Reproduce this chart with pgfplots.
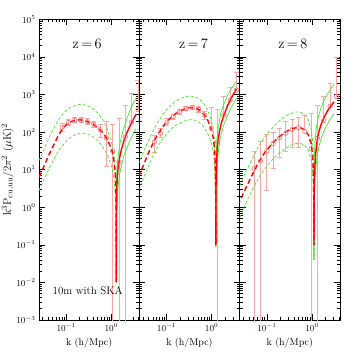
\documentclass[border=0pt]{standalone}
\usepackage{pgfplots}
\pgfplotsset{compat=1.18}
\definecolor{myred}{RGB}{255,0,0}
\definecolor{mygreen}{RGB}{70,230,40}
\definecolor{mypink}{RGB}{255,165,165}
\definecolor{mycirc}{RGB}{255,110,110}
\pgfplotsset{
  every axis/.append style={
    xmode=log, ymode=log, scale only axis,
    width=100.33bp, height=300.5bp,
    xmin=0.025, xmax=4.17, ymin=1e-3, ymax=1e5,
    xtick={0.1,1},
    minor xtick={0.03,0.04,0.05,0.06,0.07,0.08,0.09,0.2,0.3,0.4,0.5,0.6,0.7,0.8,0.9,2,3,4},
    ytick={1e-3,1e-2,1e-1,1,10,100,1000,1e4,1e5},
    minor ytick={2e-3,3e-3,4e-3,5e-3,6e-3,7e-3,8e-3,9e-3,2e-2,3e-2,4e-2,5e-2,6e-2,7e-2,8e-2,9e-2,0.2,0.3,0.4,0.5,0.6,0.7,0.8,0.9,2,3,4,5,6,7,8,9,20,30,40,50,60,70,80,90,200,300,400,500,600,700,800,900,2000,3000,4000,5000,6000,7000,8000,9000,20000,30000,40000,50000,60000,70000,80000,90000},
    axis line style={line width=1pt},
    major tick length=6bp, minor tick length=3bp,
    every tick/.append style={black, line width=0.6pt},
    tick label style={font=\small},
    xlabel={k (h/Mpc)},
    xlabel style={at={(axis description cs:0.5,-0.077)}, anchor=center},
  },
}
\tikzset{
  rdash/.style={myred, line width=1.4bp, dash pattern=on 5bp off 3bp},
  rsol/.style={myred, line width=1.4bp},
  gdash/.style={mygreen, line width=0.7bp, dash pattern=on 3bp off 2bp},
  gsol/.style={mygreen, line width=0.7bp},
}
\begin{document}
\begin{tikzpicture}
\path[use as bounding box] (-39bp,-39bp) rectangle (320bp,320bp);
% ---------------- z=6 ----------------
\begin{axis}[at={(0,0)},
  ylabel={k$^3$P$_{\rm cu,uu}$/2$\pi^2$ ($\mu$K)$^2$},
  ylabel style={at={(axis description cs:-0.31,0.5)}, anchor=center, font=\fontsize{11}{13}\selectfont}]
\addplot[only marks, mark=o, mark size=2.2bp, mark options={mycirc, line width=0.6bp},
  error bars/y dir=both, error bars/y explicit,
  error bars/error bar style={mypink, line width=0.8bp},
  error bars/error mark options={rotate=90, mark size=2.5bp, mypink, line width=0.8bp}]
  table[x expr=10^\thisrow{lk}, y expr=10^\thisrow{lp},
  y error plus expr=10^\thisrow{hi}-10^\thisrow{lp},
  y error minus expr=10^\thisrow{lp}-10^\thisrow{lo}] {
lk lp lo hi
-1.09 2.13 2.03 2.23
-0.95 2.26 2.18 2.35
-0.81 2.32 2.25 2.39
-0.67 2.32 2.25 2.39
-0.53 2.28 2.20 2.36
-0.39 2.21 2.12 2.30
-0.25 2.07 1.85 2.22
-0.11 1.85 1.09 2.30
0.03 1.50 -5 2.20
0.17 1.21 -5 2.37
0.31 1.88 -5 2.72
0.45 2.27 -5 3.03
0.59 2.60 -5 3.39
};
\addplot[gdash] table[x expr=10^\thisrow{lk}, y expr=10^\thisrow{lp}] {
lk lp
-1.6 1.25
-1.5 1.52
-1.4 1.80
-1.3 2.05
-1.2 2.27
-1.1 2.45
-1.0 2.57
-0.9 2.66
-0.8 2.71
-0.7 2.74
-0.6 2.73
-0.5 2.69
-0.4 2.62
-0.3 2.51
-0.2 2.35
-0.1 2.12
0.0 1.75
0.04 1.52
0.07 1.28
0.09 0.98
0.10 0.6
0.105 0.2
0.11 -2.0
};
\addplot[gdash] table[x expr=10^\thisrow{lk}, y expr=10^\thisrow{lp}] {
lk lp
-1.6 0.45
-1.5 0.72
-1.4 0.98
-1.3 1.22
-1.2 1.44
-1.1 1.62
-1.0 1.76
-0.9 1.86
-0.8 1.93
-0.7 1.97
-0.6 1.97
-0.5 1.94
-0.4 1.87
-0.3 1.77
-0.2 1.63
-0.1 1.43
0.0 1.12
0.04 0.90
0.07 0.60
0.09 0.30
0.10 -0.1
0.105 -2.0
};
\addplot[gsol] table[x expr=10^\thisrow{lk}, y expr=10^\thisrow{lp}] {
lk lp
0.105 -2.0
0.108 0.3
0.115 0.75
0.13 1.10
0.16 1.45
0.20 1.75
0.25 2.00
0.30 2.20
0.35 2.38
0.42 2.60
0.50 2.80
0.55 2.90
};
\addplot[gsol] table[x expr=10^\thisrow{lk}, y expr=10^\thisrow{lp}] {
lk lp
0.115 -2.0
0.12 -0.2
0.13 0.2
0.15 0.55
0.18 0.85
0.22 1.10
0.28 1.38
0.35 1.60
0.42 1.80
0.50 2.00
0.55 2.10
};
\addplot[rdash] table[x expr=10^\thisrow{lk}, y expr=10^\thisrow{lp}] {
lk lp
-1.6 0.80
-1.5 1.07
-1.4 1.35
-1.3 1.60
-1.2 1.85
-1.1 2.06
-1.0 2.20
-0.9 2.28
-0.8 2.32
-0.7 2.33
-0.6 2.31
-0.5 2.27
-0.4 2.21
-0.3 2.12
-0.2 2.00
-0.1 1.83
0.0 1.57
0.04 1.38
0.07 1.13
0.09 0.83
0.10 0.53
0.105 0.2
0.11 -2.0
};
\addplot[rsol] table[x expr=10^\thisrow{lk}, y expr=10^\thisrow{lp}] {
lk lp
0.11 -2.0
0.113 -0.3
0.12 0.4
0.13 0.75
0.15 1.05
0.18 1.30
0.22 1.52
0.28 1.78
0.35 2.00
0.42 2.18
0.50 2.37
0.55 2.48
};
\node[font=\Large] at (rel axis cs:0.48,0.918) {z\,=\,6};
\node[font=\fontsize{11}{13}\selectfont] at (rel axis cs:0.485,0.099) {10m with SKA};
\end{axis}
% ---------------- z=7 ----------------
\begin{axis}[at={(100.33bp,0)}, yticklabels={}]
\addplot[only marks, mark=o, mark size=2.2bp, mark options={mycirc, line width=0.6bp},
  error bars/y dir=both, error bars/y explicit,
  error bars/error bar style={mypink, line width=0.8bp},
  error bars/error mark options={rotate=90, mark size=2.5bp, mypink, line width=0.8bp}]
  table[x expr=10^\thisrow{lk}, y expr=10^\thisrow{lp},
  y error plus expr=10^\thisrow{hi}-10^\thisrow{lp},
  y error minus expr=10^\thisrow{lp}-10^\thisrow{lo}] {
lk lp lo hi
-1.27 1.74 1.47 1.92
-1.13 1.97 1.85 2.10
-0.99 2.27 2.18 2.36
-0.85 2.41 2.34 2.48
-0.71 2.54 2.48 2.60
-0.57 2.63 2.57 2.69
-0.43 2.66 2.60 2.72
-0.29 2.61 2.54 2.68
-0.15 2.45 2.35 2.55
-0.01 2.10 -5 2.65
0.13 1.74 -5 2.60
0.27 2.45 -5 2.95
0.41 2.85 -5 3.20
0.55 3.12 -5 3.60
};
\addplot[gdash] table[x expr=10^\thisrow{lk}, y expr=10^\thisrow{lp}] {
lk lp
-1.62 1.15
-1.5 1.50
-1.4 1.78
-1.3 2.03
-1.2 2.25
-1.1 2.44
-1.0 2.60
-0.9 2.72
-0.8 2.82
-0.7 2.89
-0.6 2.94
-0.5 2.96
-0.4 2.95
-0.3 2.90
-0.2 2.80
-0.1 2.62
0.0 2.30
0.04 2.05
0.06 1.80
0.075 1.40
0.085 0.90
0.09 -1.05
};
\addplot[gdash] table[x expr=10^\thisrow{lk}, y expr=10^\thisrow{lp}] {
lk lp
-1.62 0.45
-1.5 0.80
-1.4 1.10
-1.3 1.37
-1.2 1.60
-1.1 1.80
-1.0 1.95
-0.9 2.08
-0.8 2.18
-0.7 2.25
-0.6 2.30
-0.5 2.33
-0.4 2.33
-0.3 2.28
-0.2 2.18
-0.1 2.00
0.0 1.70
0.04 1.45
0.06 1.20
0.075 0.80
0.085 0.20
0.088 -1.05
};
\addplot[gsol] table[x expr=10^\thisrow{lk}, y expr=10^\thisrow{lp}] {
lk lp
0.09 -1.05
0.093 0.9
0.10 1.45
0.12 1.85
0.15 2.15
0.20 2.50
0.27 2.75
0.35 2.98
0.43 3.15
0.50 3.28
0.55 3.35
};
\addplot[gsol] table[x expr=10^\thisrow{lk}, y expr=10^\thisrow{lp}] {
lk lp
0.095 -1.05
0.10 0.3
0.11 0.9
0.13 1.25
0.16 1.60
0.20 1.90
0.27 2.20
0.35 2.45
0.43 2.65
0.50 2.80
0.55 2.90
};
\addplot[rdash] table[x expr=10^\thisrow{lk}, y expr=10^\thisrow{lp}] {
lk lp
-1.62 0.81
-1.5 1.15
-1.4 1.45
-1.3 1.70
-1.2 1.93
-1.1 2.12
-1.0 2.27
-0.9 2.39
-0.8 2.49
-0.7 2.56
-0.6 2.62
-0.5 2.65
-0.4 2.65
-0.3 2.61
-0.2 2.52
-0.1 2.36
0.0 2.05
0.04 1.82
0.06 1.58
0.075 1.25
0.085 0.80
0.09 0.3
0.093 -1.0
};
\addplot[rsol] table[x expr=10^\thisrow{lk}, y expr=10^\thisrow{lp}] {
lk lp
0.093 -1.0
0.097 0.6
0.105 1.1
0.12 1.52
0.14 1.75
0.17 2.0
0.21 2.22
0.27 2.45
0.35 2.70
0.43 2.90
0.50 3.05
0.55 3.15
};
\node[font=\Large] at (rel axis cs:0.54,0.918) {z\,=\,7};
\end{axis}
% ---------------- z=8 ----------------
\begin{axis}[at={(200.67bp,0)}, yticklabels={}]
\addplot[only marks, mark=o, mark size=2.2bp, mark options={mycirc, line width=0.6bp},
  error bars/y dir=both, error bars/y explicit,
  error bars/error bar style={mypink, line width=0.8bp},
  error bars/error mark options={rotate=90, mark size=2.5bp, mypink, line width=0.8bp}]
  table[x expr=10^\thisrow{lk}, y expr=10^\thisrow{lp},
  y error plus expr=10^\thisrow{hi}-10^\thisrow{lp},
  y error minus expr=10^\thisrow{lp}-10^\thisrow{lo}] {
lk lp lo hi
-1.28 1.03 -5 1.50
-1.14 1.23 -5 1.75
-1.00 1.50 0.45 1.95
-0.86 1.70 1.03 2.00
-0.72 1.85 1.34 2.10
-0.58 1.97 1.50 2.30
-0.44 2.07 1.60 2.35
-0.30 2.12 1.60 2.40
-0.16 2.02 -5 2.45
-0.02 1.56 -5 2.50
0.12 1.84 -5 2.70
0.26 2.31 -5 2.95
0.40 2.69 -5 3.30
0.54 2.95 -5 4.00
};
\addplot[gdash] table[x expr=10^\thisrow{lk}, y expr=10^\thisrow{lp}] {
lk lp
-1.64 0.45
-1.55 0.72
-1.45 0.98
-1.35 1.23
-1.25 1.47
-1.15 1.68
-1.05 1.86
-0.95 2.02
-0.85 2.15
-0.75 2.27
-0.65 2.37
-0.55 2.45
-0.45 2.51
-0.35 2.54
-0.25 2.53
-0.15 2.46
-0.08 2.32
-0.02 2.08
0.01 1.82
0.025 1.45
0.035 0.90
0.04 -1.4
};
\addplot[gdash] table[x expr=10^\thisrow{lk}, y expr=10^\thisrow{lp}] {
lk lp
-1.64 -0.40
-1.55 -0.12
-1.45 0.15
-1.35 0.40
-1.25 0.63
-1.15 0.84
-1.05 1.02
-0.95 1.17
-0.85 1.30
-0.75 1.42
-0.65 1.52
-0.55 1.60
-0.45 1.66
-0.35 1.70
-0.25 1.70
-0.15 1.63
-0.08 1.50
-0.02 1.28
0.01 1.03
0.025 0.70
0.035 0.20
0.042 -1.4
};
\addplot[gsol] table[x expr=10^\thisrow{lk}, y expr=10^\thisrow{lp}] {
lk lp
0.04 -1.4
0.045 0.9
0.055 1.45
0.07 1.80
0.10 2.15
0.15 2.45
0.20 2.65
0.27 2.85
0.35 3.03
0.43 3.18
0.49 3.27
};
\addplot[gsol] table[x expr=10^\thisrow{lk}, y expr=10^\thisrow{lp}] {
lk lp
0.048 -1.4
0.055 0.3
0.065 0.7
0.085 1.05
0.12 1.40
0.16 1.65
0.22 1.90
0.30 2.12
0.38 2.30
0.45 2.43
0.49 2.50
};
\addplot[rdash] table[x expr=10^\thisrow{lk}, y expr=10^\thisrow{lp}] {
lk lp
-1.64 0.05
-1.55 0.30
-1.45 0.55
-1.35 0.80
-1.25 1.05
-1.15 1.27
-1.05 1.45
-0.95 1.60
-0.85 1.73
-0.75 1.85
-0.65 1.95
-0.55 2.03
-0.45 2.09
-0.35 2.12
-0.25 2.12
-0.15 2.05
-0.08 1.92
-0.02 1.70
0.01 1.45
0.025 1.10
0.035 0.60
0.04 0.0
0.044 -1.0
};
\addplot[rsol] table[x expr=10^\thisrow{lk}, y expr=10^\thisrow{lp}] {
lk lp
0.044 -1.0
0.05 0.5
0.06 1.0
0.08 1.40
0.11 1.75
0.15 2.00
0.20 2.20
0.27 2.40
0.35 2.58
0.43 2.72
0.49 2.81
};
\node[font=\Large] at (rel axis cs:0.53,0.918) {z\,=\,8};
\end{axis}
\end{tikzpicture}
\end{document}
